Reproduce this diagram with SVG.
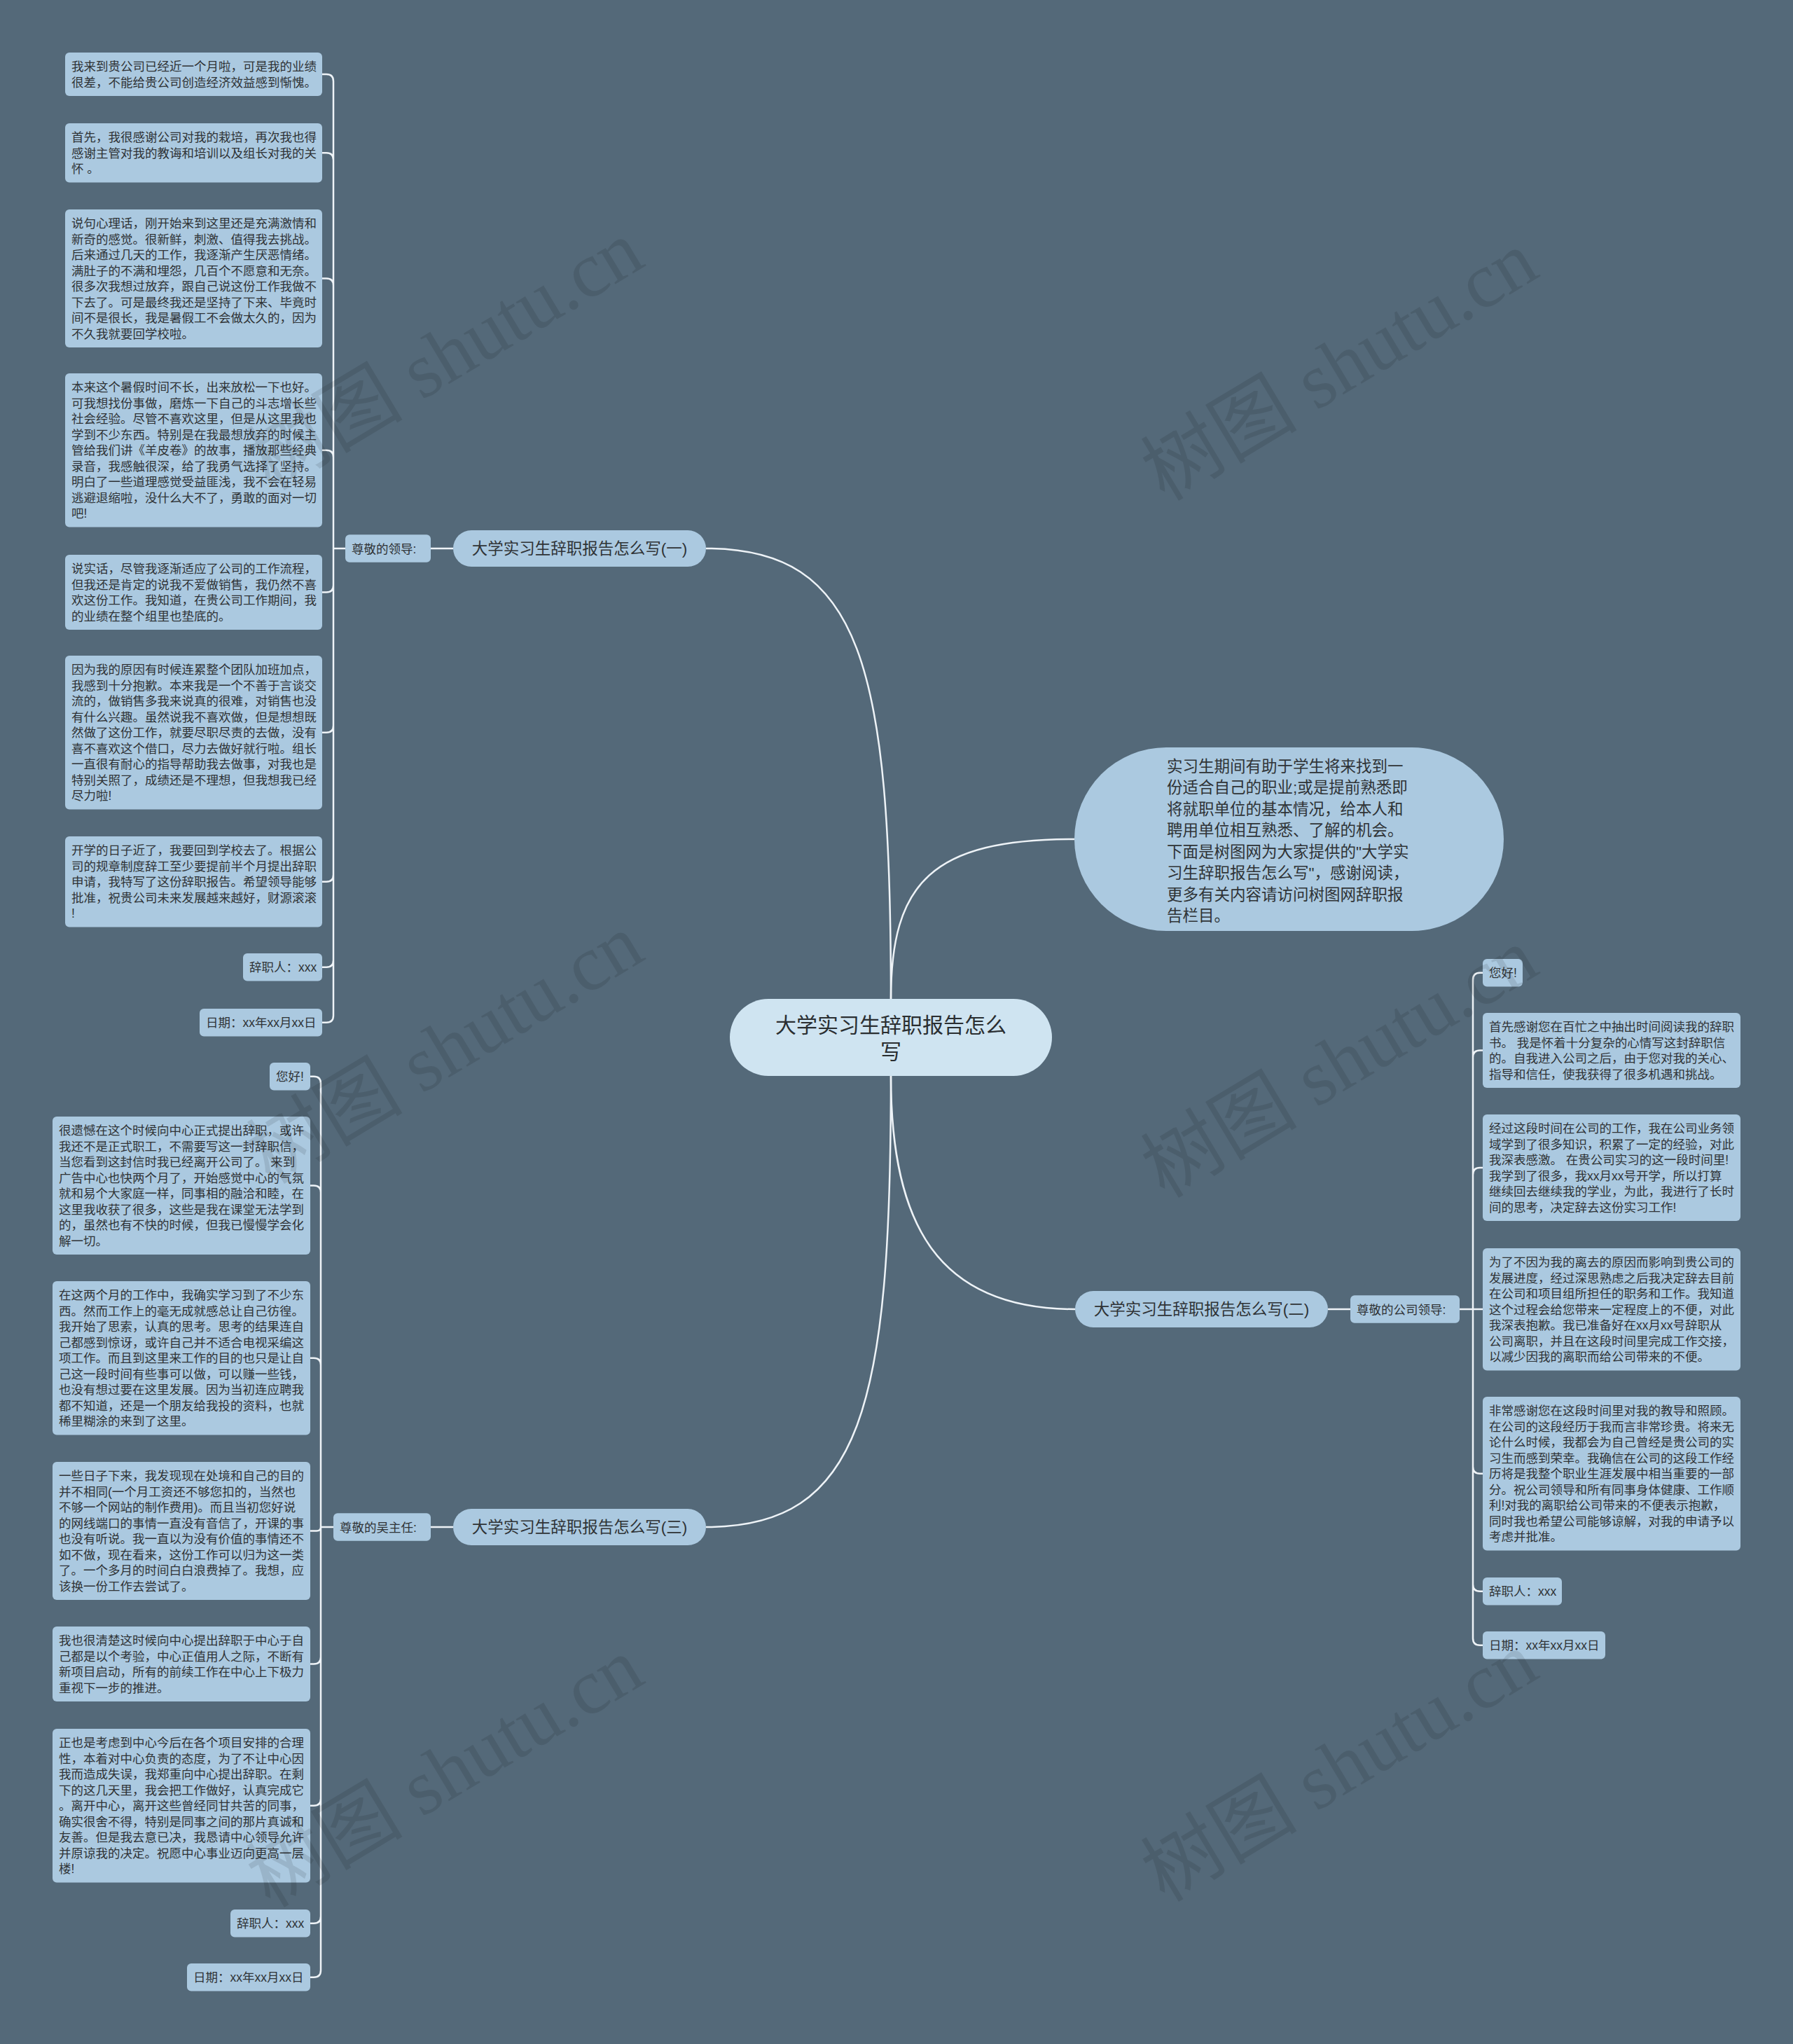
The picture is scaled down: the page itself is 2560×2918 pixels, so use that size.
<svg xmlns="http://www.w3.org/2000/svg" width="2560" height="2918" viewBox="0 0 2560 2918">
<style>
.t{font-family:'Liberation Sans','Noto Sans CJK SC',sans-serif;font-size:17.5px;fill:#2f3336}
.b{font-family:'Liberation Sans','Noto Sans CJK SC',sans-serif;font-size:22.5px;fill:#2f3336}
.c{font-family:'Liberation Sans','Noto Sans CJK SC',sans-serif;font-size:30px;fill:#2a2e31}
.leaf{fill:#abc9e0}
.main{fill:#cfe4f1}
.conn{fill:none;stroke:#eef3f7;stroke-width:2.5}
.wm{font-family:'Liberation Serif','Noto Sans CJK SC',serif;font-size:112px;fill:#000;fill-opacity:0.1}
</style>
<rect width="2560" height="2918" fill="#546979"/>

<g id="connectors">
<path class="conn" d="M1272 1427 C1272 950 1230 783 1008 783"/>
<path class="conn" d="M1272 1427 C1272 1260 1330 1198 1534 1198"/>
<path class="conn" d="M1272 1536 C1272 1750 1340 1869 1535 1869"/>
<path class="conn" d="M1272 1536 C1272 2010 1230 2180 1008 2180"/>
<path class="conn" d="M647 783 H615 M493 783 H476"/>
<path class="conn" d="M647 2180 H615 M476 2180 H458"/>
<path class="conn" d="M1896 1869 H1928 M2084 1869 H2103"/>
<path class="conn" d="M476 783 V116 Q476 106 466 106 H460 M476 783 V228.25 Q476 218.25 466 218.25 H460 M476 783 V407.5 Q476 397.5 466 397.5 H460 M476 783 V652.75 Q476 642.75 466 642.75 H460 M476 783 V835.5 Q476 845.5 466 845.5 H460 M476 783 V1035.75 Q476 1045.75 466 1045.75 H460 M476 783 V1248.75 Q476 1258.75 466 1258.75 H460 M476 783 V1370.75 Q476 1380.75 466 1380.75 H460 M476 783 V1449.75 Q476 1459.75 466 1459.75 H460"/>
<path class="conn" d="M458 2180 V1546.75 Q458 1536.75 448 1536.75 H443 M458 2180 V1702.5 Q458 1692.5 448 1692.5 H443 M458 2180 V1948.75 Q458 1938.75 448 1938.75 H443 M458 2180 Q458 2185.5 452 2185.5 H443 M458 2180 V2365.5 Q458 2375.5 448 2375.5 H443 M458 2180 V2567.75 Q458 2577.75 448 2577.75 H443 M458 2180 V2735.75 Q458 2745.75 448 2745.75 H443 M458 2180 V2812.75 Q458 2822.75 448 2822.75 H443"/>
<path class="conn" d="M2103 1869 V1398.75 Q2103 1388.75 2113 1388.75 H2117 M2103 1869 V1509.5 Q2103 1499.5 2113 1499.5 H2117 M2103 1869 V1677 Q2103 1667 2113 1667 H2117 M2103 1869 H2117 M2103 1869 V2093.75 Q2103 2103.75 2113 2103.75 H2117 M2103 1869 V2261.75 Q2103 2271.75 2113 2271.75 H2117 M2103 1869 V2338.75 Q2103 2348.75 2113 2348.75 H2117"/>
</g>

<g id="center">
<rect class="main" x="1042" y="1426" width="460" height="110" rx="55"/>
<text class="c" text-anchor="middle"><tspan x="1272" y="1474">大学实习生辞职报告怎么</tspan><tspan x="1272" y="1512">写</tspan></text>
</g>

<g id="intro">
<rect class="leaf" x="1534" y="1067" width="613" height="262" rx="131"/>
<text class="b"><tspan x="1666" y="1101.5">实习生期间有助于学生将来找到一</tspan><tspan x="1666" dy="30.5">份适合自己的职业;或是提前熟悉即</tspan><tspan x="1666" dy="30.5">将就职单位的基本情况，给本人和</tspan><tspan x="1666" dy="30.5">聘用单位相互熟悉、了解的机会。</tspan><tspan x="1666" dy="30.5">下面是树图网为大家提供的"大学实</tspan><tspan x="1666" dy="30.5">习生辞职报告怎么写"，感谢阅读，</tspan><tspan x="1666" dy="30.5">更多有关内容请访问树图网辞职报</tspan><tspan x="1666" dy="30.5">告栏目。</tspan></text>
</g>

<g id="branch1">
<rect class="leaf" x="647" y="757" width="361" height="52" rx="26"/>
<text class="b" x="827.5" y="791" text-anchor="middle">大学实习生辞职报告怎么写(一)</text>
</g>
<g id="branch2">
<rect class="leaf" x="1535" y="1843" width="361" height="52" rx="26"/>
<text class="b" x="1715.5" y="1877" text-anchor="middle">大学实习生辞职报告怎么写(二)</text>
</g>
<g id="branch3">
<rect class="leaf" x="647" y="2154" width="361" height="52" rx="26"/>
<text class="b" x="827.5" y="2188" text-anchor="middle">大学实习生辞职报告怎么写(三)</text>
</g>

<g id="label1">
<rect class="leaf" x="493" y="763.25" width="122" height="39.5" rx="6"/>
<text class="t" x="502" y="789.5">尊敬的领导:</text>
</g>
<g id="label2">
<rect class="leaf" x="1928" y="1849.25" width="156" height="39.5" rx="6"/>
<text class="t" x="1937" y="1875.5">尊敬的公司领导:</text>
</g>
<g id="label3">
<rect class="leaf" x="476" y="2160.25" width="139" height="39.5" rx="6"/>
<text class="t" x="485" y="2186.5">尊敬的吴主任:</text>
</g>

<g id="b1-leaf1">
<rect class="leaf" x="93" y="75" width="367" height="62" rx="6"/>
<text class="t"><tspan x="102" y="101.25">我来到贵公司已经近一个月啦，可是我的业绩</tspan><tspan x="102" dy="22.5">很差，不能给贵公司创造经济效益感到惭愧。</tspan></text>
</g>
<g id="b1-leaf2">
<rect class="leaf" x="93" y="176" width="367" height="84.5" rx="6"/>
<text class="t"><tspan x="102" y="202.25">首先，我很感谢公司对我的栽培，再次我也得</tspan><tspan x="102" dy="22.5">感谢主管对我的教诲和培训以及组长对我的关</tspan><tspan x="102" dy="22.5">怀 。</tspan></text>
</g>
<g id="b1-leaf3">
<rect class="leaf" x="93" y="299" width="367" height="197" rx="6"/>
<text class="t"><tspan x="102" y="325.25">说句心理话，刚开始来到这里还是充满激情和</tspan><tspan x="102" dy="22.5">新奇的感觉。很新鲜，刺激、值得我去挑战。</tspan><tspan x="102" dy="22.5">后来通过几天的工作，我逐渐产生厌恶情绪。</tspan><tspan x="102" dy="22.5">满肚子的不满和埋怨，几百个不愿意和无奈。</tspan><tspan x="102" dy="22.5">很多次我想过放弃，跟自己说这份工作我做不</tspan><tspan x="102" dy="22.5">下去了。可是最终我还是坚持了下来、毕竟时</tspan><tspan x="102" dy="22.5">间不是很长，我是暑假工不会做太久的，因为</tspan><tspan x="102" dy="22.5">不久我就要回学校啦。</tspan></text>
</g>
<g id="b1-leaf4">
<rect class="leaf" x="93" y="533" width="367" height="219.5" rx="6"/>
<text class="t"><tspan x="102" y="559.25">本来这个暑假时间不长，出来放松一下也好。</tspan><tspan x="102" dy="22.5">可我想找份事做，磨炼一下自己的斗志增长些</tspan><tspan x="102" dy="22.5">社会经验。尽管不喜欢这里，但是从这里我也</tspan><tspan x="102" dy="22.5">学到不少东西。特别是在我最想放弃的时候主</tspan><tspan x="102" dy="22.5">管给我们讲《羊皮卷》的故事，播放那些经典</tspan><tspan x="102" dy="22.5">录音，我感触很深，给了我勇气选择了坚持。</tspan><tspan x="102" dy="22.5">明白了一些道理感觉受益匪浅，我不会在轻易</tspan><tspan x="102" dy="22.5">逃避退缩啦，没什么大不了，勇敢的面对一切</tspan><tspan x="102" dy="22.5">吧!</tspan></text>
</g>
<g id="b1-leaf5">
<rect class="leaf" x="93" y="792" width="367" height="107" rx="6"/>
<text class="t"><tspan x="102" y="818.25">说实话，尽管我逐渐适应了公司的工作流程，</tspan><tspan x="102" dy="22.5">但我还是肯定的说我不爱做销售，我仍然不喜</tspan><tspan x="102" dy="22.5">欢这份工作。我知道，在贵公司工作期间，我</tspan><tspan x="102" dy="22.5">的业绩在整个组里也垫底的。</tspan></text>
</g>
<g id="b1-leaf6">
<rect class="leaf" x="93" y="936" width="367" height="219.5" rx="6"/>
<text class="t"><tspan x="102" y="962.25">因为我的原因有时候连累整个团队加班加点，</tspan><tspan x="102" dy="22.5">我感到十分抱歉。本来我是一个不善于言谈交</tspan><tspan x="102" dy="22.5">流的，做销售多我来说真的很难，对销售也没</tspan><tspan x="102" dy="22.5">有什么兴趣。虽然说我不喜欢做，但是想想既</tspan><tspan x="102" dy="22.5">然做了这份工作，就要尽职尽责的去做，没有</tspan><tspan x="102" dy="22.5">喜不喜欢这个借口，尽力去做好就行啦。组长</tspan><tspan x="102" dy="22.5">一直很有耐心的指导帮助我去做事，对我也是</tspan><tspan x="102" dy="22.5">特别关照了，成绩还是不理想，但我想我已经</tspan><tspan x="102" dy="22.5">尽力啦!</tspan></text>
</g>
<g id="b1-leaf7">
<rect class="leaf" x="93" y="1194" width="367" height="129.5" rx="6"/>
<text class="t"><tspan x="102" y="1220.25">开学的日子近了，我要回到学校去了。根据公</tspan><tspan x="102" dy="22.5">司的规章制度辞工至少要提前半个月提出辞职</tspan><tspan x="102" dy="22.5">申请，我特写了这份辞职报告。希望领导能够</tspan><tspan x="102" dy="22.5">批准，祝贵公司未来发展越来越好，财源滚滚</tspan><tspan x="102" dy="22.5">!</tspan></text>
</g>
<g id="b1-signer">
<rect class="leaf" x="347" y="1361" width="113" height="39.5" rx="6"/>
<text class="t" x="356" y="1387.25">辞职人：xxx</text>
</g>
<g id="b1-date">
<rect class="leaf" x="285" y="1440" width="175" height="39.5" rx="6"/>
<text class="t" x="294" y="1466.25">日期：xx年xx月xx日</text>
</g>

<g id="b3-hello">
<rect class="leaf" x="385" y="1517" width="58" height="39.5" rx="6"/>
<text class="t" x="394" y="1543.25">您好!</text>
</g>
<g id="b3-leaf1">
<rect class="leaf" x="75" y="1594" width="368" height="197" rx="6"/>
<text class="t"><tspan x="84" y="1620.25">很遗憾在这个时候向中心正式提出辞职，或许</tspan><tspan x="84" dy="22.5">我还不是正式职工，不需要写这一封辞职信，</tspan><tspan x="84" dy="22.5">当您看到这封信时我已经离开公司了。 来到</tspan><tspan x="84" dy="22.5">广告中心也快两个月了，开始感觉中心的气氛</tspan><tspan x="84" dy="22.5">就和易个大家庭一样，同事相的融洽和睦，在</tspan><tspan x="84" dy="22.5">这里我收获了很多，这些是我在课堂无法学到</tspan><tspan x="84" dy="22.5">的，虽然也有不快的时候，但我已慢慢学会化</tspan><tspan x="84" dy="22.5">解一切。</tspan></text>
</g>
<g id="b3-leaf2">
<rect class="leaf" x="75" y="1829" width="368" height="219.5" rx="6"/>
<text class="t"><tspan x="84" y="1855.25">在这两个月的工作中，我确实学习到了不少东</tspan><tspan x="84" dy="22.5">西。然而工作上的毫无成就感总让自己彷徨。</tspan><tspan x="84" dy="22.5">我开始了思索，认真的思考。思考的结果连自</tspan><tspan x="84" dy="22.5">己都感到惊讶，或许自己并不适合电视采编这</tspan><tspan x="84" dy="22.5">项工作。而且到这里来工作的目的也只是让自</tspan><tspan x="84" dy="22.5">己这一段时间有些事可以做，可以赚一些钱，</tspan><tspan x="84" dy="22.5">也没有想过要在这里发展。因为当初连应聘我</tspan><tspan x="84" dy="22.5">都不知道，还是一个朋友给我投的资料，也就</tspan><tspan x="84" dy="22.5">稀里糊涂的来到了这里。</tspan></text>
</g>
<g id="b3-leaf3">
<rect class="leaf" x="75" y="2087" width="368" height="197" rx="6"/>
<text class="t"><tspan x="84" y="2113.25">一些日子下来，我发现现在处境和自己的目的</tspan><tspan x="84" dy="22.5">并不相同(一个月工资还不够您扣的，当然也</tspan><tspan x="84" dy="22.5">不够一个网站的制作费用)。而且当初您好说</tspan><tspan x="84" dy="22.5">的网线端口的事情一直没有音信了，开课的事</tspan><tspan x="84" dy="22.5">也没有听说。我一直以为没有价值的事情还不</tspan><tspan x="84" dy="22.5">如不做，现在看来，这份工作可以归为这一类</tspan><tspan x="84" dy="22.5">了。一个多月的时间白白浪费掉了。我想，应</tspan><tspan x="84" dy="22.5">该换一份工作去尝试了。</tspan></text>
</g>
<g id="b3-leaf4">
<rect class="leaf" x="75" y="2322" width="368" height="107" rx="6"/>
<text class="t"><tspan x="84" y="2348.25">我也很清楚这时候向中心提出辞职于中心于自</tspan><tspan x="84" dy="22.5">己都是以个考验，中心正值用人之际，不断有</tspan><tspan x="84" dy="22.5">新项目启动，所有的前续工作在中心上下极力</tspan><tspan x="84" dy="22.5">重视下一步的推进。</tspan></text>
</g>
<g id="b3-leaf5">
<rect class="leaf" x="75" y="2468" width="368" height="219.5" rx="6"/>
<text class="t"><tspan x="84" y="2494.25">正也是考虑到中心今后在各个项目安排的合理</tspan><tspan x="84" dy="22.5">性，本着对中心负责的态度，为了不让中心因</tspan><tspan x="84" dy="22.5">我而造成失误，我郑重向中心提出辞职。在剩</tspan><tspan x="84" dy="22.5">下的这几天里，我会把工作做好，认真完成它</tspan><tspan x="84" dy="22.5">。离开中心，离开这些曾经同甘共苦的同事，</tspan><tspan x="84" dy="22.5">确实很舍不得，特别是同事之间的那片真诚和</tspan><tspan x="84" dy="22.5">友善。但是我去意已决，我恳请中心领导允许</tspan><tspan x="84" dy="22.5">并原谅我的决定。祝愿中心事业迈向更高一层</tspan><tspan x="84" dy="22.5">楼!</tspan></text>
</g>
<g id="b3-signer">
<rect class="leaf" x="329" y="2726" width="114" height="39.5" rx="6"/>
<text class="t" x="338" y="2752.25">辞职人：xxx</text>
</g>
<g id="b3-date">
<rect class="leaf" x="267" y="2803" width="176" height="39.5" rx="6"/>
<text class="t" x="276" y="2829.25">日期：xx年xx月xx日</text>
</g>

<g id="b2-hello">
<rect class="leaf" x="2117" y="1369" width="57" height="39.5" rx="6"/>
<text class="t" x="2126" y="1395.25">您好!</text>
</g>
<g id="b2-leaf1">
<rect class="leaf" x="2117" y="1446" width="368" height="107" rx="6"/>
<text class="t"><tspan x="2126" y="1472.25">首先感谢您在百忙之中抽出时间阅读我的辞职</tspan><tspan x="2126" dy="22.5">书。 我是怀着十分复杂的心情写这封辞职信</tspan><tspan x="2126" dy="22.5">的。自我进入公司之后，由于您对我的关心、</tspan><tspan x="2126" dy="22.5">指导和信任，使我获得了很多机遇和挑战。</tspan></text>
</g>
<g id="b2-leaf2">
<rect class="leaf" x="2117" y="1591" width="368" height="152" rx="6"/>
<text class="t"><tspan x="2126" y="1617.25">经过这段时间在公司的工作，我在公司业务领</tspan><tspan x="2126" dy="22.5">域学到了很多知识，积累了一定的经验，对此</tspan><tspan x="2126" dy="22.5">我深表感激。 在贵公司实习的这一段时间里!</tspan><tspan x="2126" dy="22.5">我学到了很多，我xx月xx号开学，所以打算</tspan><tspan x="2126" dy="22.5">继续回去继续我的学业，为此，我进行了长时</tspan><tspan x="2126" dy="22.5">间的思考，决定辞去这份实习工作!</tspan></text>
</g>
<g id="b2-leaf3">
<rect class="leaf" x="2117" y="1782" width="368" height="174.5" rx="6"/>
<text class="t"><tspan x="2126" y="1808.25">为了不因为我的离去的原因而影响到贵公司的</tspan><tspan x="2126" dy="22.5">发展进度，经过深思熟虑之后我决定辞去目前</tspan><tspan x="2126" dy="22.5">在公司和项目组所担任的职务和工作。我知道</tspan><tspan x="2126" dy="22.5">这个过程会给您带来一定程度上的不便，对此</tspan><tspan x="2126" dy="22.5">我深表抱歉。我已准备好在xx月xx号辞职从</tspan><tspan x="2126" dy="22.5">公司离职，并且在这段时间里完成工作交接，</tspan><tspan x="2126" dy="22.5">以减少因我的离职而给公司带来的不便。</tspan></text>
</g>
<g id="b2-leaf4">
<rect class="leaf" x="2117" y="1994" width="368" height="219.5" rx="6"/>
<text class="t"><tspan x="2126" y="2020.25">非常感谢您在这段时间里对我的教导和照顾。</tspan><tspan x="2126" dy="22.5">在公司的这段经历于我而言非常珍贵。将来无</tspan><tspan x="2126" dy="22.5">论什么时候，我都会为自己曾经是贵公司的实</tspan><tspan x="2126" dy="22.5">习生而感到荣幸。我确信在公司的这段工作经</tspan><tspan x="2126" dy="22.5">历将是我整个职业生涯发展中相当重要的一部</tspan><tspan x="2126" dy="22.5">分。祝公司领导和所有同事身体健康、工作顺</tspan><tspan x="2126" dy="22.5">利!对我的离职给公司带来的不便表示抱歉，</tspan><tspan x="2126" dy="22.5">同时我也希望公司能够谅解，对我的申请予以</tspan><tspan x="2126" dy="22.5">考虑并批准。</tspan></text>
</g>
<g id="b2-signer">
<rect class="leaf" x="2117" y="2252" width="113" height="39.5" rx="6"/>
<text class="t" x="2126" y="2278.25">辞职人：xxx</text>
</g>
<g id="b2-date">
<rect class="leaf" x="2117" y="2329" width="175" height="39.5" rx="6"/>
<text class="t" x="2126" y="2355.25">日期：xx年xx月xx日</text>
</g>

<g id="watermarks">
<text class="wm" text-anchor="middle" transform="translate(655 540) rotate(-31)">树图 shutu.cn</text>
<text class="wm" text-anchor="middle" transform="translate(1932 555) rotate(-31)">树图 shutu.cn</text>
<text class="wm" text-anchor="middle" transform="translate(655 1530) rotate(-31)">树图 shutu.cn</text>
<text class="wm" text-anchor="middle" transform="translate(1932 1550) rotate(-31)">树图 shutu.cn</text>
<text class="wm" text-anchor="middle" transform="translate(655 2563) rotate(-31)">树图 shutu.cn</text>
<text class="wm" text-anchor="middle" transform="translate(1932 2555) rotate(-31)">树图 shutu.cn</text>
</g>
</svg>
